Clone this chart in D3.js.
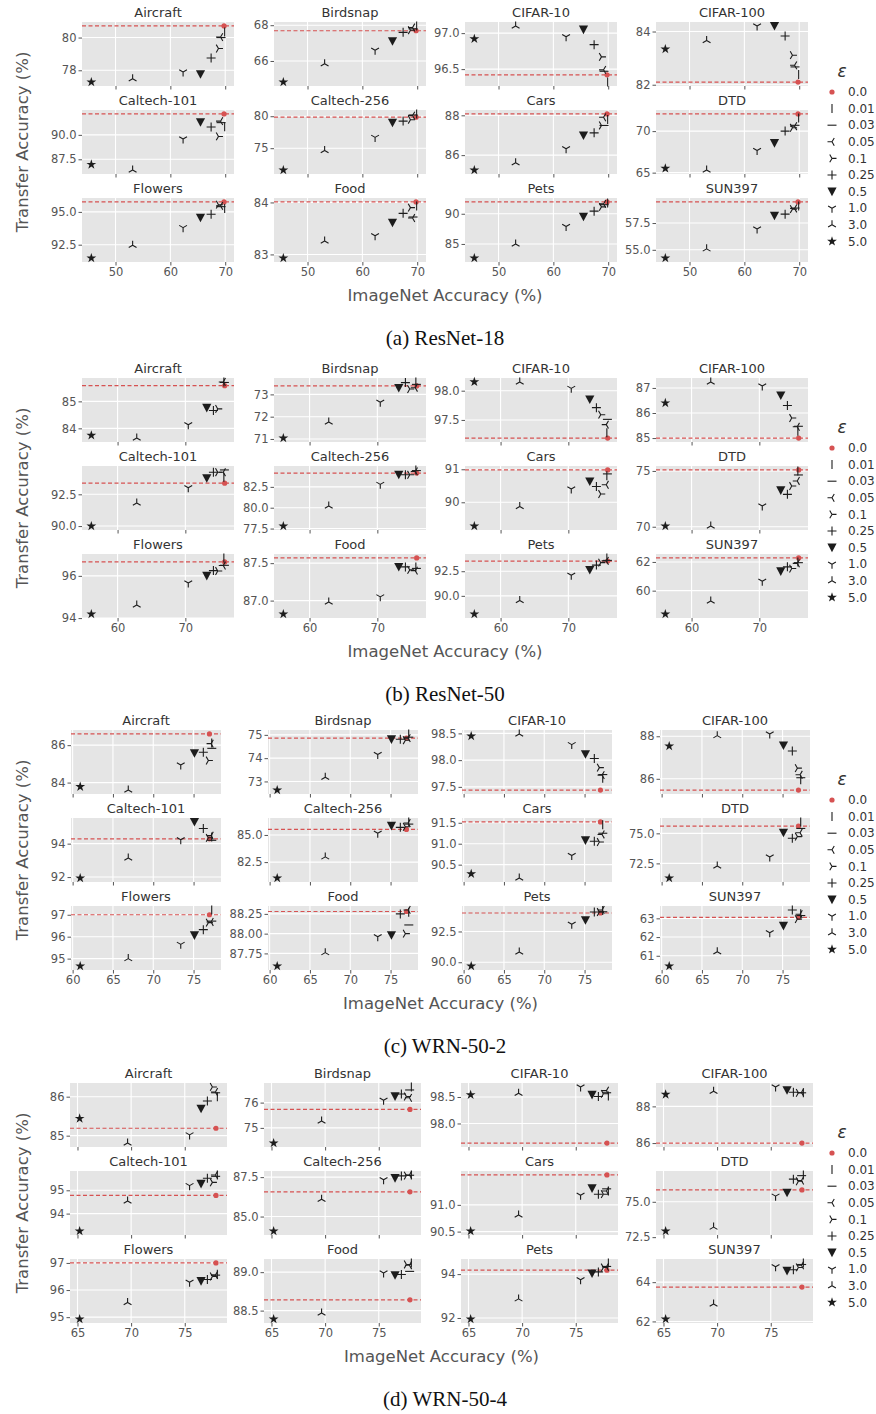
<!DOCTYPE html>
<html>
<head>
<meta charset="utf-8">
<script src="https://cdn.jsdelivr.net/npm/d3@7"></script>
<style>
body{margin:0;background:#fff}
text{font-family:"DejaVu Sans",sans-serif}
</style>
</head>
<body>
<svg id="chart" width="876" height="1414"></svg>
<script>
// epsilon values (legend) and datasets (panel order)
var epsilons = ["0.0","0.01","0.03","0.05","0.1","0.25","0.5","1.0","3.0","5.0"];
var datasets = ["Aircraft","Birdsnap","CIFAR-10","CIFAR-100","Caltech-101","Caltech-256","Cars","DTD","Flowers","Food","Pets","SUN397"];
var captions = ["(a) ResNet-18","(b) ResNet-50","(c) WRN-50-2","(d) WRN-50-4"];

// ImageNet accuracy for each epsilon
var imagenetR18 = [69.79,69.90,69.24,69.15,68.77,67.43,65.49,62.32,53.12,45.59];
var imagenetR50 = [75.80,75.68,75.76,75.59,74.78,74.14,73.16,70.43,62.83,56.13];
var imagenetW2  = [76.97,77.25,77.26,77.17,76.84,76.21,75.11,73.41,66.90,60.94];
var imagenetW4  = [77.91,78.04,77.88,77.86,77.58,77.11,76.52,75.45,69.67,65.20];

// transfer accuracy, one row per dataset (same order as datasets), one value per epsilon
var transferR18 = [
  [80.71,80.34,80.00,80.03,79.33,78.75,77.76,77.89,77.48,77.28],
  [67.69,67.96,67.80,67.87,67.72,67.60,67.11,66.60,65.84,64.82],
  [96.42,96.32,96.47,96.49,96.67,96.84,97.05,96.95,97.10,96.92],
  [82.10,82.38,82.67,82.73,83.11,83.83,84.21,84.21,83.66,83.34],
  [92.14,90.84,91.25,91.40,89.84,90.80,91.30,89.57,86.40,86.97],
  [79.85,80.36,80.20,80.10,79.45,79.24,78.98,76.69,74.64,71.58],
  [88.07,87.79,87.49,87.90,87.49,87.12,86.99,86.32,85.62,85.25],
  [72.07,71.57,70.70,70.59,70.40,70.00,68.56,67.66,65.31,65.51],
  [95.76,95.25,95.40,95.46,95.55,94.82,94.56,93.80,92.45,91.48],
  [84.01,83.93,83.72,83.70,83.90,83.79,83.61,83.36,83.26,82.93],
  [91.96,91.80,91.50,91.63,91.14,90.43,89.51,87.88,85.00,82.66],
  [59.47,59.10,58.90,58.86,58.80,58.33,58.18,56.94,55.09,54.23]
];
var transferR50 = [
  [85.58,85.72,85.70,85.72,84.72,84.66,84.76,84.13,83.64,83.74],
  [73.38,73.56,73.45,73.30,73.24,73.53,73.29,72.65,71.76,71.04],
  [97.19,97.28,97.51,97.42,97.59,97.71,97.85,98.04,98.15,98.15],
  [85.00,85.27,85.47,85.45,85.80,86.30,86.70,87.08,87.24,86.40],
  [93.38,93.85,94.42,94.24,94.24,94.24,93.77,93.02,91.82,90.00],
  [84.15,84.53,84.45,84.35,83.95,83.95,83.95,82.80,80.20,77.80],
  [90.98,90.80,90.86,90.53,90.25,90.48,90.63,90.40,89.87,89.28],
  [75.09,75.00,74.64,74.10,73.65,72.90,73.26,71.86,70.06,70.06],
  [96.66,96.85,96.50,96.49,96.23,96.25,96.00,95.66,94.62,94.19],
  [87.57,87.45,87.43,87.40,87.41,87.45,87.45,87.05,86.98,86.82],
  [93.53,93.85,93.60,93.55,93.37,93.12,92.63,92.09,89.52,88.15],
  [62.28,62.00,61.95,61.90,61.54,61.66,61.35,60.66,59.28,58.37]
];
var transferW2 = [
  [86.60,86.12,85.83,86.08,85.18,85.62,85.57,84.94,83.60,83.78],
  [74.86,75.04,74.90,74.86,74.77,74.81,74.81,74.16,73.18,72.63],
  [97.44,97.66,97.73,97.72,97.86,98.03,98.11,98.29,98.49,98.45],
  [85.47,85.95,86.05,86.19,86.50,87.31,87.57,88.11,88.03,87.54],
  [94.29,94.40,94.20,94.48,94.35,94.91,95.30,94.23,93.14,91.94],
  [85.51,86.20,86.00,86.10,85.75,85.70,85.84,85.15,82.98,81.03],
  [91.52,91.45,91.25,91.22,91.04,91.06,91.08,90.72,90.18,90.28],
  [75.60,75.95,75.41,75.05,74.73,74.59,75.05,73.04,72.28,71.28],
  [97.00,97.22,96.71,96.67,96.64,96.32,96.06,95.65,95.00,94.66],
  [88.28,88.27,88.11,88.30,88.00,88.25,87.98,87.96,87.76,87.59],
  [94.00,94.21,94.10,94.25,94.08,94.08,93.42,93.08,90.84,89.69],
  [63.05,63.25,63.15,63.22,62.96,63.45,62.60,62.23,61.21,60.45]
];
var transferW4 = [
  [85.19,86.00,86.10,86.12,86.25,85.89,85.69,85.02,84.81,85.44],
  [75.73,76.62,76.50,76.19,76.24,76.34,76.25,76.09,75.27,74.40],
  [97.63,98.52,98.58,98.62,98.56,98.51,98.54,98.69,98.57,98.54],
  [86.00,88.74,88.74,88.76,88.74,88.77,88.88,89.06,88.83,88.65],
  [94.78,95.66,95.60,95.66,95.34,95.52,95.28,95.20,94.54,93.25],
  [86.57,87.64,87.62,87.64,87.60,87.58,87.44,87.33,86.10,84.08],
  [91.56,91.26,91.30,91.26,91.20,91.20,91.31,91.18,90.81,90.51],
  [75.84,76.90,76.85,76.50,76.45,76.60,75.64,75.40,73.21,72.93],
  [97.00,96.58,96.55,96.55,96.50,96.39,96.33,96.29,95.54,94.93],
  [88.64,89.12,89.01,89.09,89.10,88.97,88.96,88.99,88.47,88.39],
  [94.18,94.51,94.35,94.33,94.30,94.10,94.03,93.74,92.87,91.95],
  [63.75,64.98,64.90,64.86,64.75,64.63,64.58,64.79,62.89,62.12]
];

// tick labels
var xTicksR18 = ["50","60","70"];
var xTicksR50 = ["60","70"];
var xTicksW2  = ["60","65","70","75"];
var xTicksW4  = ["65","70","75"];
var yTicksR18 = [["78","80"],["66","68"],["96.5","97.0"],["82","84"],["87.5","90.0"],["75","80"],
  ["86","88"],["65","70"],["92.5","95.0"],["83","84"],["85","90"],["55.0","57.5"]];
var yTicksR50 = [["84","85"],["71","72","73"],["97.5","98.0"],["85","86","87"],["90.0","92.5"],["77.5","80.0","82.5"],
  ["90","91"],["70","75"],["94","96"],["87.0","87.5"],["90.0","92.5"],["60","62"]];
var yTicksW2 = [["84","86"],["73","74","75"],["97.5","98.0","98.5"],["86","88"],["92","94"],["82.5","85.0"],
  ["90.5","91.0","91.5"],["72.5","75.0"],["95","96","97"],["87.75","88.00","88.25"],["90.0","92.5"],["61","62","63"]];
var yTicksW4 = [["85","86"],["75","76"],["98.0","98.5"],["86","88"],["94","95"],["85.0","87.5"],
  ["90.5","91.0"],["72.5","75.0"],["95","96","97"],["88.5","89.0"],["92","94"],["62","64"]];

var sections = [
  {imagenet: imagenetR18, transfer: transferR18, xTicks: xTicksR18, yTicks: yTicksR18},
  {imagenet: imagenetR50, transfer: transferR50, xTicks: xTicksR50, yTicks: yTicksR50},
  {imagenet: imagenetW2,  transfer: transferW2,  xTicks: xTicksW2,  yTicks: yTicksW2},
  {imagenet: imagenetW4,  transfer: transferW4,  xTicks: xTicksW4,  yTicks: yTicksW4}
];

// layout
var svg = d3.select("#chart");
var secTop = [22, 378, 730, 1083];
var colLeft = [[82,274,465,656],[82,274,465,656],[71,268,462,660],[70,264,461,656]];
var colW = [152, 152, 150, 157];
var rowOff = [0, 88, 176];
var panelH = 64;
var red = "#d65252", ink = "#1c1c1c", grey = "#555";

// marker shapes in legend order
var shapes = [
  null,
  "M0,-4.5V4.5",
  "M-4.5,0H4.5",
  "M0,0L-4.5,0M0,0L2.25,-3.9M0,0L2.25,3.9",
  "M0,0L4.5,0M0,0L-2.25,-3.9M0,0L-2.25,3.9",
  "M-4.5,0H4.5M0,-4.5V4.5",
  "M-4.6,-4L4.6,-4L0,4.6Z",
  "M0,0L0,4.5M0,0L-3.9,-2.25M0,0L3.9,-2.25",
  "M0,0L0,-4.5M0,0L-3.9,2.25M0,0L3.9,2.25",
  d3.symbol(d3.symbolStar, 30)()
];

function drawMarker(g, k, x, y){
  if (k == 0){
    g.append("circle").attr("cx", x).attr("cy", y).attr("r", 2.6).attr("fill", red);
    return;
  }
  var p = g.append("path").attr("d", shapes[k]).attr("transform", "translate(" + x + "," + y + ")");
  if (k == 6 || k == 9){
    p.attr("fill", ink).attr("stroke", "none");
  } else {
    p.attr("fill", "none").attr("stroke", ink).attr("stroke-width", 1.1);
  }
}

function decimals(labels){
  return d3.max(labels, function(s){ return s.indexOf(".") < 0 ? 0 : s.split(".")[1].length; });
}

function styleAxis(a){
  a.select(".domain").remove();
  a.selectAll(".tick line").attr("stroke", grey);
  a.selectAll(".tick text").attr("fill", grey).style("font-size", "11.5px").style("font-family", "DejaVu Sans");
}

sections.forEach(function(sec, s){
  var top = secTop[s], w = colW[s];
  var xe = d3.extent(sec.imagenet), xp = (xe[1] - xe[0]) * 0.07;
  var x = d3.scaleLinear().domain([xe[0] - xp, xe[1] + xp]).range([0, w]);
  var xTickVals = sec.xTicks.map(Number);

  datasets.forEach(function(name, j){
    var row = Math.floor(j / 4), col = j % 4;
    var vals = sec.transfer[j];
    var ye = d3.extent(vals), yp = (ye[1] - ye[0]) * 0.07;
    var y = d3.scaleLinear().domain([ye[0] - yp, ye[1] + yp]).range([panelH, 0]);
    var yLabels = sec.yTicks[j];
    var yTickVals = yLabels.map(Number);
    var dec = decimals(yLabels);

    var g = svg.append("g")
      .attr("transform", "translate(" + colLeft[s][col] + "," + (top + rowOff[row]) + ")");

    g.append("rect").attr("width", w).attr("height", panelH).attr("fill", "#e5e5e5");

    // grid
    g.selectAll(".gy").data(yTickVals).enter().append("line")
      .attr("x1", 0).attr("x2", w).attr("y1", y).attr("y2", y)
      .attr("stroke", "#fff").attr("stroke-width", 1.1);
    g.selectAll(".gx").data(xTickVals).enter().append("line")
      .attr("y1", 0).attr("y2", panelH).attr("x1", x).attr("x2", x)
      .attr("stroke", "#fff").attr("stroke-width", 1.1);

    // axes
    var ya = g.append("g").call(d3.axisLeft(y).tickValues(yTickVals).tickSize(3.5).tickPadding(2)
      .tickFormat(function(v){ return v.toFixed(dec); }));
    styleAxis(ya);
    var xa = g.append("g").attr("transform", "translate(0," + panelH + ")")
      .call(d3.axisBottom(x).tickValues(xTickVals).tickSize(3.5).tickPadding(2)
        .tickFormat(row == 2 ? d3.format("d") : function(){ return ""; }));
    styleAxis(xa);

    // title
    g.append("text").attr("x", w / 2).attr("y", -5).attr("text-anchor", "middle")
      .attr("fill", "#333").style("font-size", "13px").text(name);

    // baseline (standard model) dashed line
    g.append("line").attr("x1", 0).attr("x2", w)
      .attr("y1", y(vals[0])).attr("y2", y(vals[0]))
      .attr("stroke", red).attr("stroke-width", 1.2).attr("stroke-dasharray", "4,2.5");

    vals.forEach(function(v, k){
      drawMarker(g, k, x(sec.imagenet[k]), y(v));
    });
  });

  // legend
  var lg = svg.append("g");
  lg.append("text").attr("x", 842).attr("y", top + 55).attr("text-anchor", "middle")
    .attr("fill", "#333").style("font-size", "17px").style("font-style", "italic").text("\u03b5");
  epsilons.forEach(function(e, k){
    var ly = top + 70 + k * 16.6;
    drawMarker(lg, k, 832, ly);
    lg.append("text").attr("x", 848).attr("y", ly).attr("dy", "0.35em")
      .attr("fill", "#333").style("font-size", "12px").text(e);
  });

  // axis labels
  var midY = top + (rowOff[2] + panelH) / 2;
  svg.append("text").attr("transform", "translate(22," + midY + ") rotate(-90)")
    .attr("text-anchor", "middle").attr("dy", "0.35em").attr("fill", grey)
    .style("font-size", "16.5px").text("Transfer Accuracy (%)");
  var midX = (colLeft[s][0] + colLeft[s][3] + w) / 2;
  svg.append("text").attr("x", midX).attr("y", top + rowOff[2] + panelH + 33).attr("dy", "0.35em")
    .attr("text-anchor", "middle").attr("fill", grey).style("font-size", "16.5px")
    .text("ImageNet Accuracy (%)");

  // caption
  svg.append("text").attr("x", 445).attr("y", top + 316).attr("dy", "0.35em")
    .attr("text-anchor", "middle").attr("fill", "#111")
    .style("font-family", "'Liberation Serif', serif").style("font-size", "21px")
    .text(captions[s]);
});
</script>
</body>
</html>
